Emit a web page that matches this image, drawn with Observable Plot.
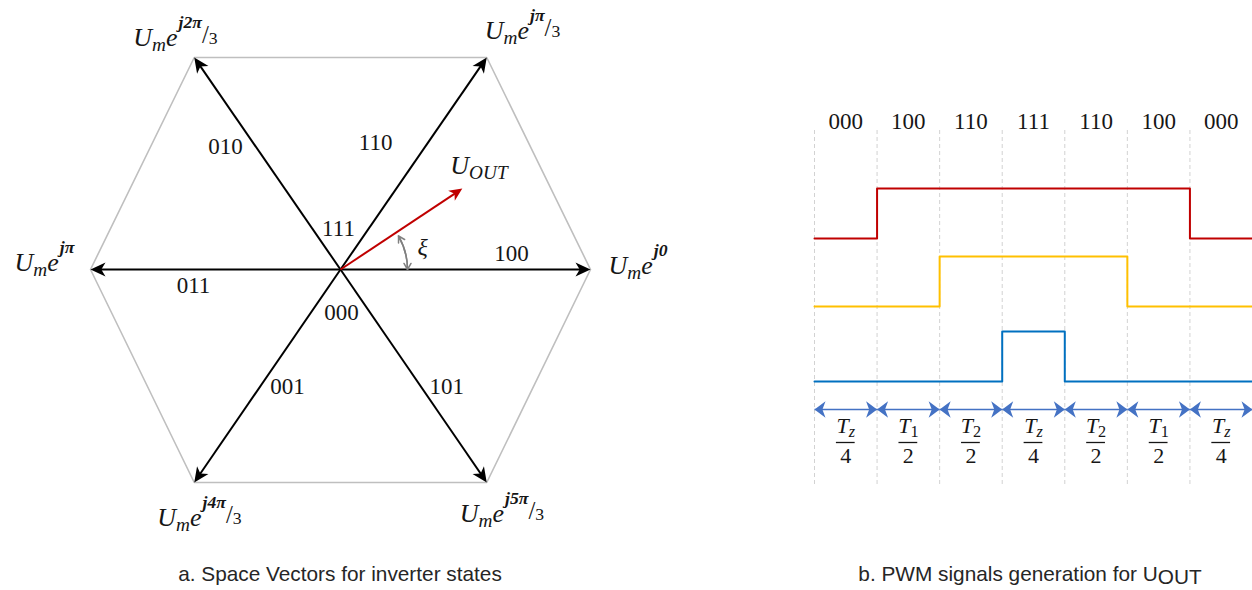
<!DOCTYPE html>
<html><head><meta charset="utf-8">
<script src="https://cdn.jsdelivr.net/npm/d3@7"></script>
<script src="https://cdn.jsdelivr.net/npm/@observablehq/plot@0.6"></script>
<style>
html,body{margin:0;padding:0;background:#fff;}
#wrap{position:relative;width:1252px;height:590px;overflow:hidden;background:#fff;}
#left{position:absolute;left:0;top:0;}
#right{position:absolute;left:790px;top:0;}
.cap{position:absolute;top:562px;font-family:"Liberation Sans",Arial,sans-serif;font-size:20.8px;color:#262626;white-space:nowrap;transform:translateX(-50%);line-height:24px;}
.cap .sub{position:relative;top:3px;}
</style></head>
<body>
<div id="wrap">
  <div id="left"></div>
  <div id="right"></div>
  <div class="cap" style="left:340px">a. Space Vectors for inverter states</div>
  <div class="cap" style="left:1030px">b. PWM signals generation for U<span class="sub">OUT</span></div>
</div>
<script>
// ---------------- DATA ----------------
// Space vectors (left panel), in units of U_m
const vectorStates = ["100", "110", "010", "011", "001", "101"];
const vertexX = [1.0, 0.585, -0.585, -1.0, -0.585, 0.585];
const vertexY = [0.0, 0.848, 0.848, 0.0, -0.852, -0.852];
const vertexLabels = ["U_{m}e^{j0}", "U_{m}e^{jπ}/{3}", "U_{m}e^{j2π}/{3}", "U_{m}e^{jπ}", "U_{m}e^{j4π}/{3}", "U_{m}e^{j5π}/{3}"];
const zeroStates = ["111", "000"];
const uOutMagnitude = 0.585;
const uOutAngle = 33.6;   // degrees
const xiSweep = 30;       // degrees (angle-marker arc)

// PWM sequence (right panel)
const pwmStates = ["000", "100", "110", "111", "110", "100", "000"];
const intervalNumerators = ["T_{z}", "T_{1}", "T_{2}", "T_{z}", "T_{2}", "T_{1}", "T_{z}"];
const intervalDenominators = ["4", "2", "2", "4", "2", "2", "4"];

// ---------------- STYLE / LAYOUT ----------------
const PX = 250; // px per unit, left panel
const rad = Math.PI / 180;
const serif = "Liberation Serif, Times New Roman, serif";
const inkColor = "#161616";
const phaseColors = ["#C00000", "#FFC000", "#0070C0"];
const vertexLabelOffset = [[18, 4], [-2, -19], [-61, -12], [-76, 1], [-37, 43], [-27, 39]];
const stateLabelOffset = [[46, -16], [-38, -21], [-42, -17], [-22, 16], [20, 11], [33, 11]];
const zeroLabelOffset = [[-2, -41], [1, 43]];

// barbed (stealth) arrowhead symbol, tip at origin, pointing up
const barb = (w, notch) => ({
  draw(ctx, size) {
    const L = Math.sqrt(size / Math.PI);
    ctx.moveTo(0, 0);
    ctx.lineTo(-w * L, L);
    ctx.lineTo(0, notch * L);
    ctx.lineTo(w * L, L);
    ctx.closePath();
  }
});

// simple math markup -> tspans
function mathify(svg, keys, base) {
  const NS = "http://www.w3.org/2000/svg";
  svg.querySelectorAll("text").forEach(t => {
    const s = t.textContent;
    if (!keys.has(s)) return;
    t.textContent = "";
    let cur = 0;
    const add = (txt, size, shift, o = {}) => {
      const ts = document.createElementNS(NS, "tspan");
      ts.textContent = txt;
      ts.setAttribute("font-size", size);
      ts.setAttribute("dy", shift - cur);
      cur = shift;
      ts.setAttribute("font-style", o.italic === false ? "normal" : "italic");
      if (o.bold) ts.setAttribute("font-weight", "bold");
      if (o.dx) ts.setAttribute("dx", o.dx);
      t.appendChild(ts);
    };
    const re = /_\{([^}]*)\}|\^\{([^}]*)\}|\/\{([^}]*)\}|([^_^\/]+)/g;
    let m;
    while ((m = re.exec(s))) {
      if (m[1] != null) add(m[1], base * 0.74, base * 0.22, {italic: !/^\d+$/.test(m[1])});
      else if (m[2] != null) add(m[2], base * 0.68, -base * 0.68, {bold: true, dx: 1});
      else if (m[3] != null) { add("/", base * 0.95, -base * 0.08, {italic: false}); add(m[3], base * 0.68, -base * 0.06, {italic: false}); }
      else add(m[4], base, 0);
    }
  });
}

// ---------------- LEFT PANEL ----------------
const vectors = vectorStates.map((s, i) => ({
  state: s, x: vertexX[i], y: vertexY[i], label: vertexLabels[i],
  angle: Math.atan2(vertexY[i], vertexX[i]) / rad,
  len: Math.hypot(vertexX[i], vertexY[i])
}));
const hexPts = [...vectors, vectors[0]];
const uOut = {
  x: uOutMagnitude * Math.cos(uOutAngle * rad),
  y: uOutMagnitude * Math.sin(uOutAngle * rad),
  angle: uOutAngle, len: uOutMagnitude
};
const shorten = (d, px) => 1 - px / (d.len * PX);
const xiR = 0.268;

const left = Plot.plot({
  width: 700, height: 545, margin: 0,
  style: {background: "transparent", fontFamily: serif},
  x: {domain: [-1, 1], range: [90, 590], axis: null},
  y: {domain: [-1, 1], range: [519, 19], axis: null},
  marks: [
    Plot.line(hexPts, {x: "x", y: "y", stroke: "#bfbfbf", strokeWidth: 1.6}),
    Plot.link(vectors, {x1: 0, y1: 0, x2: d => d.x * shorten(d, 6), y2: d => d.y * shorten(d, 6), stroke: "#000", strokeWidth: 2}),
    Plot.dot(vectors, {x: "x", y: "y", symbol: barb(0.46, 0.72), r: 15, rotate: d => 90 - d.angle, fill: "#000", stroke: "none"}),
    Plot.link([uOut], {x1: 0, y1: 0, x2: d => d.x * shorten(d, 5), y2: d => d.y * shorten(d, 5), stroke: "#C00000", strokeWidth: 2}),
    Plot.dot([uOut], {x: "x", y: "y", symbol: barb(0.46, 0.72), r: 13, rotate: d => 90 - d.angle, fill: "#C00000", stroke: "none"}),
    Plot.arrow([xiSweep], {x1: xiR, y1: 0, x2: d => xiR * Math.cos(d * rad), y2: d => xiR * Math.sin(d * rad), bend: -15, stroke: "#808080", strokeWidth: 1.5, headLength: 7}),
    Plot.arrow([xiSweep], {x2: xiR, y2: 0, x1: d => xiR * Math.cos(d * rad), y1: d => xiR * Math.sin(d * rad), bend: 15, stroke: "#808080", strokeWidth: 1.5, headLength: 7}),
    Plot.text([xiSweep], {x: d => 0.34 * Math.cos(d / 2 * rad), y: d => 0.34 * Math.sin(d / 2 * rad), text: () => "ξ", fontStyle: "italic", fontSize: 24, fill: inkColor}),
    Plot.text(vectors, {x: (d, i) => d.x / 2 + stateLabelOffset[i][0] / PX, y: (d, i) => d.y / 2 - stateLabelOffset[i][1] / PX, text: "state", fontSize: 23, fill: inkColor}),
    Plot.text(zeroStates, {x: (d, i) => zeroLabelOffset[i][0] / PX, y: (d, i) => -zeroLabelOffset[i][1] / PX, text: d => d, fontSize: 23, fill: inkColor}),
    Plot.text(vectors, {x: (d, i) => d.x + vertexLabelOffset[i][0] / PX, y: (d, i) => d.y - vertexLabelOffset[i][1] / PX, text: "label", textAnchor: "start", lineAnchor: "bottom", fontSize: 26, fill: inkColor}),
    Plot.text([uOut], {x: d => d.x - 12 / PX, y: d => d.y + 15 / PX, text: () => "U_{OUT}", textAnchor: "start", lineAnchor: "bottom", fontSize: 24, fill: inkColor})
  ]
});
mathify(left, new Set([...vertexLabels, "U_{OUT}"]), 26);
document.getElementById("left").appendChild(left);

// ---------------- RIGHT PANEL ----------------
const rowBase = [0, -1.36, -2.86];
const gridTop = 2.16, gridBottom = -4.98, stateLabelY = 2.34, arrowRowY = -3.42, numY = -3.88, barY = -4.08, denY = -4.48;
const n = pwmStates.length;
const bounds = d3.range(n + 1);
const cells = d3.range(n);
const phaseLines = phaseColors.map((c, p) =>
  bounds.map(k => ({x: k, y: rowBase[p] + (pwmStates[Math.min(k, n - 1)][p] === "1" ? 1 : 0)}))
);

const right = Plot.plot({
  width: 462, height: 500, margin: 0,
  style: {background: "transparent", fontFamily: serif},
  x: {domain: [0, n], range: [24, 462], axis: null},
  y: {domain: [-5, 3], range: [488, 88], axis: null},
  marks: [
    Plot.ruleX(bounds, {x: d => d, y1: gridTop, y2: gridBottom, stroke: "#d2d2d2", strokeWidth: 1, strokeDasharray: "4,3"}),
    ...phaseLines.map((pts, p) => Plot.line(pts, {x: "x", y: "y", curve: "step-after", stroke: phaseColors[p], strokeWidth: 2})),
    Plot.text(pwmStates, {x: (d, i) => i + 0.5, y: stateLabelY, text: d => d, fontSize: 23, fill: inkColor}),
    Plot.link(cells, {x1: d => d, x2: d => d + 1, y1: arrowRowY, y2: arrowRowY, stroke: "#4472C4", strokeWidth: 1.5}),
    Plot.dot(cells, {x: d => d + 1, y: arrowRowY, symbol: barb(0.75, 0.72), r: 11, rotate: 90, fill: "#4472C4", stroke: "none"}),
    Plot.dot(cells, {x: d => d, y: arrowRowY, symbol: barb(0.75, 0.72), r: 11, rotate: -90, fill: "#4472C4", stroke: "none"}),
    Plot.text(intervalNumerators, {x: (d, i) => i + 0.5, y: numY, text: d => d, lineAnchor: "bottom", fontSize: 22, fill: inkColor}),
    Plot.ruleY(cells, {x1: d => d + 0.35, x2: d => d + 0.65, y: barY, stroke: inkColor, strokeWidth: 1.3}),
    Plot.text(intervalDenominators, {x: (d, i) => i + 0.5, y: denY, text: d => d, lineAnchor: "bottom", fontSize: 22, fill: inkColor})
  ]
});
mathify(right, new Set(intervalNumerators), 22);
document.getElementById("right").appendChild(right);
</script>
</body></html>
